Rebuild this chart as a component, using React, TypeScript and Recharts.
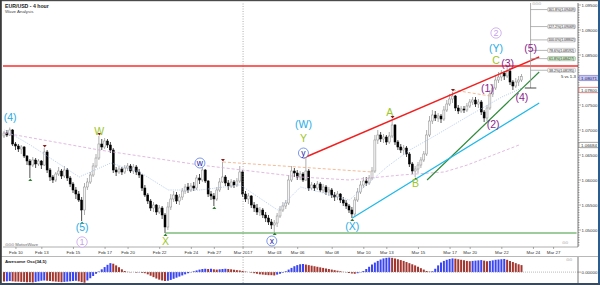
import React from 'react';
import { ComposedChart, BarChart, Bar, Line, XAxis, YAxis, ReferenceLine, ReferenceDot, Cell } from 'recharts';

// ---------- DATA ----------
const firstOpen = 1.0688;
const closes = [
  1.0694, 1.0690, 1.0700, 1.0672, 1.0668,
  1.0662, 1.0666, 1.0648, 1.0638, 1.0630, 1.0640,
  1.0632, 1.0638, 1.0630, 1.0656, 1.0620, 1.0606,
  1.0600, 1.0612, 1.0618, 1.0608, 1.0620, 1.0604,
  1.0592, 1.0580, 1.0572, 1.0560, 1.0540, 1.0586,
  1.0596, 1.0610, 1.0628, 1.0644, 1.0672, 1.0666,
  1.0678, 1.0670, 1.0660, 1.0620, 1.0616, 1.0622,
  1.0616, 1.0624, 1.0628, 1.0618, 1.0626, 1.0616,
  1.0610, 1.0584, 1.0570, 1.0558, 1.0544, 1.0550,
  1.0536, 1.0544, 1.0530, 1.0506, 1.0546, 1.0562,
  1.0570, 1.0558, 1.0566, 1.0578, 1.0586, 1.0580,
  1.0588, 1.0584, 1.0604, 1.0600, 1.0620, 1.0598,
  1.0572, 1.0568, 1.0562, 1.0580, 1.0596, 1.0606,
  1.0594, 1.0588, 1.0596, 1.0590, 1.0598, 1.0616,
  1.0572, 1.0562, 1.0568, 1.0550, 1.0544, 1.0536,
  1.0540, 1.0530, 1.0524, 1.0516, 1.0510, 1.0514,
  1.0528, 1.0540, 1.0548, 1.0554, 1.0600, 1.0618,
  1.0614, 1.0606, 1.0612, 1.0600, 1.0618, 1.0584,
  1.0590, 1.0584, 1.0592, 1.0580, 1.0586, 1.0576,
  1.0580, 1.0570, 1.0566, 1.0572, 1.0560, 1.0554,
  1.0548, 1.0540, 1.0532, 1.0560, 1.0576, 1.0590,
  1.0598, 1.0594, 1.0604, 1.0618, 1.0680, 1.0690,
  1.0682, 1.0686, 1.0676, 1.0688, 1.0710, 1.0676,
  1.0666, 1.0660, 1.0664, 1.0652, 1.0632, 1.0618,
  1.0622, 1.0630, 1.0640, 1.0652, 1.0690, 1.0718,
  1.0730, 1.0724, 1.0728, 1.0722, 1.0740, 1.0752,
  1.0762, 1.0768, 1.0744, 1.0738, 1.0742, 1.0740,
  1.0748, 1.0756, 1.0760, 1.0752, 1.0756, 1.0736,
  1.0724, 1.0744, 1.0772, 1.0784, 1.0800, 1.0806,
  1.0814, 1.0808, 1.0818, 1.0796, 1.0788, 1.0796,
  1.0800, 1.0807,
];
const highs = [
  1.0698, 1.0700, 1.0705, 1.0702, 1.0676,
  1.0672, 1.0670, 1.0668, 1.0650, 1.0642, 1.0646,
  1.0644, 1.0642, 1.0640, 1.0664, 1.0660, 1.0624,
  1.0610, 1.0616, 1.0626, 1.0622, 1.0628, 1.0624,
  1.0608, 1.0596, 1.0586, 1.0578, 1.0566, 1.0594,
  1.0604, 1.0616, 1.0634, 1.0652, 1.0688, 1.0682,
  1.0684, 1.0682, 1.0676, 1.0664, 1.0626, 1.0628,
  1.0626, 1.0630, 1.0634, 1.0632, 1.0632, 1.0630,
  1.0622, 1.0612, 1.0590, 1.0574, 1.0562, 1.0556,
  1.0552, 1.0550, 1.0548, 1.0534, 1.0556, 1.0572,
  1.0578, 1.0576, 1.0572, 1.0584, 1.0592, 1.0594,
  1.0594, 1.0596, 1.0610, 1.0612, 1.0630, 1.0622,
  1.0600, 1.0578, 1.0574, 1.0586, 1.0604, 1.0636,
  1.0610, 1.0600, 1.0602, 1.0600, 1.0604, 1.0628,
  1.0620, 1.0578, 1.0574, 1.0570, 1.0556, 1.0552,
  1.0546, 1.0544, 1.0536, 1.0530, 1.0522, 1.0520,
  1.0534, 1.0548, 1.0556, 1.0560, 1.0610, 1.0628,
  1.0624, 1.0620, 1.0618, 1.0616, 1.0646, 1.0622,
  1.0596, 1.0594, 1.0598, 1.0596, 1.0592, 1.0590,
  1.0586, 1.0584, 1.0576, 1.0578, 1.0574, 1.0566,
  1.0560, 1.0552, 1.0546, 1.0566, 1.0584, 1.0598,
  1.0606, 1.0606, 1.0610, 1.0626, 1.0690, 1.0700,
  1.0696, 1.0692, 1.0690, 1.0696, 1.0722, 1.0712,
  1.0680, 1.0672, 1.0670, 1.0668, 1.0656, 1.0636,
  1.0628, 1.0636, 1.0646, 1.0658, 1.0700, 1.0728,
  1.0740, 1.0738, 1.0734, 1.0732, 1.0748, 1.0760,
  1.0772, 1.0776, 1.0770, 1.0750, 1.0748, 1.0748,
  1.0754, 1.0762, 1.0766, 1.0766, 1.0762, 1.0760,
  1.0740, 1.0750, 1.0780, 1.0792, 1.0808, 1.0816,
  1.0820, 1.0818, 1.0826, 1.0824, 1.0800, 1.0804,
  1.0808, 1.0812,
];
const lows = [
  1.0684, 1.0686, 1.0688, 1.0668, 1.0660,
  1.0656, 1.0652, 1.0644, 1.0630, 1.0604, 1.0626,
  1.0624, 1.0628, 1.0622, 1.0628, 1.0614, 1.0598,
  1.0594, 1.0596, 1.0608, 1.0602, 1.0604, 1.0598,
  1.0586, 1.0574, 1.0562, 1.0556, 1.0518, 1.0530,
  1.0580, 1.0592, 1.0606, 1.0624, 1.0640, 1.0660,
  1.0662, 1.0664, 1.0654, 1.0614, 1.0608, 1.0612,
  1.0610, 1.0612, 1.0618, 1.0614, 1.0612, 1.0610,
  1.0604, 1.0578, 1.0566, 1.0552, 1.0538, 1.0536,
  1.0530, 1.0532, 1.0522, 1.0494, 1.0500, 1.0540,
  1.0556, 1.0552, 1.0550, 1.0560, 1.0572, 1.0574,
  1.0576, 1.0578, 1.0580, 1.0592, 1.0596, 1.0594,
  1.0566, 1.0560, 1.0548, 1.0558, 1.0576, 1.0594,
  1.0588, 1.0580, 1.0584, 1.0584, 1.0586, 1.0594,
  1.0566, 1.0556, 1.0552, 1.0544, 1.0536, 1.0530,
  1.0528, 1.0524, 1.0516, 1.0510, 1.0502, 1.0496,
  1.0506, 1.0524, 1.0536, 1.0542, 1.0550, 1.0596,
  1.0606, 1.0600, 1.0600, 1.0596, 1.0598, 1.0578,
  1.0580, 1.0578, 1.0580, 1.0576, 1.0574, 1.0570,
  1.0568, 1.0564, 1.0558, 1.0560, 1.0554, 1.0548,
  1.0542, 1.0534, 1.0524, 1.0528, 1.0556, 1.0572,
  1.0584, 1.0588, 1.0590, 1.0600, 1.0614, 1.0672,
  1.0676, 1.0674, 1.0670, 1.0672, 1.0684, 1.0670,
  1.0660, 1.0654, 1.0650, 1.0646, 1.0626, 1.0612,
  1.0606, 1.0614, 1.0624, 1.0636, 1.0648, 1.0686,
  1.0712, 1.0718, 1.0716, 1.0714, 1.0718, 1.0736,
  1.0748, 1.0754, 1.0738, 1.0732, 1.0734, 1.0734,
  1.0736, 1.0744, 1.0750, 1.0746, 1.0744, 1.0730,
  1.0716, 1.0718, 1.0740, 1.0766, 1.0780, 1.0794,
  1.0798, 1.0800, 1.0804, 1.0790, 1.0780, 1.0784,
  1.0788, 1.0796,
];

const aoValues = [
  -0.0034, -0.0033, -0.0032, -0.0033, -0.0034, -0.0034, -0.0035, -0.0035, -0.0036, -0.0036,
  -0.0037, -0.0035, -0.0033, -0.0031, -0.0030, -0.0031, -0.0032, -0.0033, -0.0034, -0.0035,
  -0.0036, -0.0035, -0.0034, -0.0033, -0.0032, -0.0031, -0.0033, -0.0036, -0.0038, -0.0030,
  -0.0022, -0.0014, -0.0006, 0.0002, 0.0010, 0.0018, 0.0026, 0.0032, 0.0030, 0.0024,
  0.0017, 0.0010, 0.0004, 0.0001, -0.0001, 0.0000, -0.0002, -0.0001, -0.0002, -0.0004,
  -0.0008, -0.0013, -0.0018, -0.0023, -0.0027, -0.0030, -0.0032, -0.0031, -0.0028, -0.0024,
  -0.0020, -0.0016, -0.0012, -0.0008, -0.0004, -0.0001, 0.0003, 0.0006, 0.0009, 0.0011,
  0.0012, 0.0011, 0.0012, 0.0010, 0.0009, 0.0010, 0.0011, 0.0012, 0.0011, 0.0010,
  0.0008, 0.0007, 0.0006, 0.0004, 0.0002, 0.0000, -0.0002, -0.0004, -0.0006, -0.0008,
  -0.0009, -0.0010, -0.0011, -0.0011, -0.0012, -0.0009, -0.0006, -0.0002, 0.0003, 0.0009,
  0.0015, 0.0021, 0.0025, 0.0028, 0.0029, 0.0027, 0.0025, 0.0023, 0.0021, 0.0019,
  0.0017, 0.0015, 0.0013, 0.0011, 0.0009, 0.0007, 0.0005, 0.0003, 0.0001, -0.0001,
  -0.0003, -0.0005, -0.0006, -0.0004, -0.0001, 0.0004, 0.0011, 0.0019, 0.0027, 0.0034,
  0.0040, 0.0045, 0.0049, 0.0051, 0.0052, 0.0051, 0.0049, 0.0046, 0.0043, 0.0040,
  0.0036, 0.0032, 0.0028, 0.0024, 0.0019, 0.0014, 0.0009, 0.0004, 0.0002, 0.0003,
  0.0012, 0.0024, 0.0034, 0.0040, 0.0044, 0.0047, 0.0049, 0.0048, 0.0046, 0.0044,
  0.0042, 0.0040, 0.0039, 0.0040, 0.0041, 0.0042, 0.0043, 0.0041, 0.0039, 0.0040,
  0.0042, 0.0044, 0.0045, 0.0046, 0.0047, 0.0044, 0.0040, 0.0036, 0.0032, 0.0028,
  0.0025,
];

// moving averages (index, price)
const maLongIdx = [0, 33, 68, 103, 120, 138, 153, 161, 179];
const maLongVal = [1.0694, 1.0660, 1.0630, 1.0606, 1.0600, 1.0610, 1.0616, 1.0630, 1.0670];
const maShortIdx = [0, 9, 26, 37, 47, 57, 68, 82, 95, 103, 120, 133, 141, 149, 162, 173, 180];
const maShortVal = [1.0700, 1.0670, 1.0606, 1.0634, 1.0616, 1.0580, 1.0580, 1.0590, 1.0540, 1.0586, 1.0560, 1.0626, 1.0660, 1.0686, 1.0730, 1.0766, 1.0784];

const dateTickIdx = [4, 13, 24, 35, 43, 54, 65, 73, 83, 94, 102, 114, 125, 133, 144, 155, 162, 173, 184, 191];
const dateLabels = ['Feb 10', 'Feb 13', 'Feb 15', 'Feb 17', 'Feb 20', 'Feb 22', 'Feb 24', 'Feb 27', 'Mar 2017', 'Mar 03', 'Mar 06', 'Mar 08', 'Mar 10', 'Mar 13', 'Mar 15', 'Mar 17', 'Mar 20', 'Mar 22', 'Mar 24', 'Mar 27'];

const priceMajorLabels = ['1.05000', '1.05500', '1.06000', '1.06500', '1.07000', '1.07500', '1.08500', '1.09000', '1.09500'];

const waveLabels = [
  { i: 2, p: 1.0726, t: '(4)', k: 'cyan' },
  { i: 27, p: 1.0506, t: '(5)', k: 'cyan' },
  { i: 27, p: 1.0476, t: '1', k: 'lav' },
  { i: 33, p: 1.0698, t: 'W', k: 'green' },
  { i: 56, p: 1.0478, t: 'X', k: 'green' },
  { i: 68, p: 1.0634, t: 'w', k: 'blue' },
  { i: 93, p: 1.0478, t: 'x', k: 'blue' },
  { i: 104, p: 1.0712, t: '(W)', k: 'cyan' },
  { i: 104, p: 1.0684, t: 'Y', k: 'green' },
  { i: 104, p: 1.0654, t: 'y', k: 'blue' },
  { i: 121, p: 1.0508, t: '(X)', k: 'cyan' },
  { i: 134, p: 1.0736, t: 'A', k: 'green' },
  { i: 143, p: 1.0594, t: 'B', k: 'green' },
  { i: 168, p: 1.0784, t: '(1)', k: 'purple' },
  { i: 170, p: 1.0712, t: '(2)', k: 'purple' },
  { i: 171, p: 1.0894, t: '2', k: 'lav' },
  { i: 171, p: 1.0864, t: '(Y)', k: 'cyan' },
  { i: 171, p: 1.0840, t: 'C', k: 'green' },
  { i: 175, p: 1.0834, t: '(3)', k: 'purple' },
  { i: 180, p: 1.0766, t: '(4)', k: 'purple' },
  { i: 183, p: 1.0864, t: '(5)', k: 'purple' },
];

const swingHighs = [14, 33, 76, 105, 135, 156];
const swingLows = [9, 27, 56, 73, 94, 121, 143];

const fibLevels = [
  { pct: '161.8%', price: 1.09409, hl: false },
  { pct: '127.2%', price: 1.09069, hl: false },
  { pct: '100.0%', price: 1.08802, hl: false },
  { pct: '78.6%', price: 1.08592, hl: false },
  { pct: '61.8%', price: 1.08427, hl: true },
  { pct: '38.2%', price: 1.08195, hl: false },
];

const priceBoxes = [
  { v: 1.06700, label: '1.06684', fill: '#ffffff', stroke: '#777777', color: '#333' },
  { v: 1.07800, label: '1.07800', fill: '#ffffff', stroke: '#c05050', color: '#333' },
  { v: 1.08040, label: '1.08071', fill: '#c6c6f2', stroke: '#4a4ab8', color: '#1a1a6a' },
];

// ---------- BUILD ----------
const NCAT = 200;
const chartData = Array.from({ length: NCAT }, (_, i) => {
  const has = i < closes.length;
  const li = maLongIdx.indexOf(i);
  const si = maShortIdx.indexOf(i);
  return {
    i,
    open: has ? (i === 0 ? firstOpen : closes[i - 1]) : null,
    close: has ? closes[i] : null,
    high: has ? highs[i] : null,
    low: has ? lows[i] : null,
    maL: li >= 0 ? maLongVal[li] : null,
    maS: si >= 0 ? maShortVal[si] : null,
  };
});
const aoData = Array.from({ length: NCAT }, (_, i) => ({ i, ao: i < aoValues.length ? aoValues[i] : null }));

const yTicks: number[] = [];
for (let k = 0; k <= 96; k++) yTicks.push(Number((1.047 + k * 0.0005).toFixed(4)));
priceBoxes.forEach((b) => yTicks.push(b.v));

const FONT = '"Liberation Sans", Arial, sans-serif';
const COL = { cyan: '#27ace6', green: '#9dc62b', purple: '#8b1e8b', lav: '#c6a2ec', blue: '#1c1ca6' };

// ---------- RENDERERS ----------
const Candle = (props: any) => {
  const { x, y, width, height, payload } = props;
  if (!payload || payload.high == null) return null;
  const top = Math.min(y, y + height);
  const h = Math.abs(height);
  const span = payload.high - payload.low || 1e-9;
  const py = (v: number) => top + ((payload.high - v) / span) * h;
  const cx = x + width / 2;
  const up = payload.close >= payload.open;
  const bTop = py(Math.max(payload.open, payload.close));
  const bBot = py(Math.min(payload.open, payload.close));
  const col = up ? '#8c8c8c' : '#000000';
  return (
    <g>
      <line x1={cx} x2={cx} y1={top} y2={top + h} stroke={col} strokeWidth={0.7} />
      <rect x={x} y={bTop} width={width} height={Math.max(0.7, bBot - bTop)} fill={up ? '#f4f4f4' : '#000'} stroke={col} strokeWidth={0.5} />
    </g>
  );
};

const PriceTick = (props: any) => {
  const { x, y, payload } = props;
  const v = payload.value;
  const box = priceBoxes.find((b) => b.v === v);
  if (box) {
    return (
      <g>
        <rect x={x + 1} y={y - 2.6} width={20} height={5.2} rx={1} fill={box.fill} stroke={box.stroke} strokeWidth={0.5} />
        <text x={x + 11} y={y + 1.6} textAnchor="middle" fontSize={4.4} fill={box.color} fontFamily={FONT}>{box.label}</text>
      </g>
    );
  }
  const lab = v.toFixed(5);
  const major = priceMajorLabels.includes(lab);
  return (
    <g>
      <line x1={x} x2={x + (major ? 3 : 1.5)} y1={y} y2={y} stroke="#555" strokeWidth={0.5} />
      {major && (
        <text x={x + 3.5} y={y + 1.6} fontSize={4.4} fill="#333" fontFamily={FONT}>{lab}</text>
      )}
    </g>
  );
};

const DateTick = (props: any) => {
  const { x, y, payload } = props;
  const idx = dateTickIdx.indexOf(Number(payload.value));
  if (idx < 0) return null;
  return (
    <g>
      <line x1={x} x2={x} y1={y} y2={y + 2} stroke="#777" strokeWidth={0.6} />
      <text x={x} y={y + 6.8} textAnchor="middle" fontSize={4.4} fill="#333" fontFamily={FONT}>{dateLabels[idx]}</text>
    </g>
  );
};

const waveShape = (l: any) => (p: any) => {
  const { cx, cy } = p;
  if (l.k === 'blue') {
    return (
      <g>
        <circle cx={cx} cy={cy} r={5} fill="#fff" stroke="#5a7de6" strokeWidth={0.8} />
        <text x={cx} y={cy + 2.8} textAnchor="middle" fontSize={8.5} fill={COL.blue} fontFamily={FONT}>{l.t}</text>
      </g>
    );
  }
  if (l.k === 'lav') {
    return (
      <g>
        <circle cx={cx} cy={cy} r={5.2} fill="#fff" stroke={COL.lav} strokeWidth={0.8} />
        <text x={cx} y={cy + 3.2} textAnchor="middle" fontSize={9} fill={COL.lav} fontFamily={FONT}>{l.t}</text>
      </g>
    );
  }
  const c = (COL as any)[l.k];
  return (
    <text x={cx} y={cy + 3.6} textAnchor="middle" fontSize={10.5} fill={c} fontFamily={FONT}>{l.t}</text>
  );
};

const triShape = (down: boolean) => (p: any) => {
  const { cx, cy } = p;
  if (down) {
    return <path d={`M${cx - 2},${cy - 3} L${cx + 2},${cy - 3} L${cx},${cy - 0.5} Z`} fill="#8a1c1c" />;
  }
  return <path d={`M${cx - 2},${cy + 3} L${cx + 2},${cy + 3} L${cx},${cy + 0.5} Z`} fill="#2e7d32" />;
};

const fibShape = (f: any) => (p: any) => {
  const { cx, cy } = p;
  return (
    <g>
      <line x1={cx} x2={cx + 17} y1={cy} y2={cy} stroke="#9a9a9a" strokeWidth={0.7} />
      <rect x={cx + 17} y={cy - 2.1} width={28} height={4.2} rx={1.2} fill={f.hl ? '#c8ecc0' : '#f2f2f2'} stroke="#8a8a8a" strokeWidth={0.4} />
      <text x={cx + 31} y={cy + 1.3} textAnchor="middle" fontSize={3.5} fill="#333" fontFamily={FONT}>{`${f.pct}(${f.price.toFixed(5)})`}</text>
    </g>
  );
};

export default function App() {
  return (
    <div style={{ position: 'absolute', left: 0, top: 0, width: 600, height: 285, background: '#fff', overflow: 'hidden', fontFamily: FONT }}>
      <div style={{ position: 'absolute', left: 0, top: 0 }}>
        <ComposedChart width={600} height={257} data={chartData} margin={{ top: 3, right: 0, bottom: 0, left: 3 }} barCategoryGap={0}>
          <XAxis dataKey="i" type="category" height={10} interval={0} tickLine={false} tickSize={0} tickMargin={0} axisLine={{ stroke: '#9a9a9a', strokeWidth: 0.8 }} tick={<DateTick />} />
          <YAxis orientation="right" width={22} type="number" domain={[1.0466, 1.0954]} allowDataOverflow ticks={yTicks} interval={0} tickLine={false} tickSize={0} tickMargin={0} axisLine={{ stroke: '#555', strokeWidth: 0.8 }} tick={<PriceTick />} />

          <ReferenceLine x={83} stroke="#8a8a8a" strokeDasharray="1 1.5" strokeWidth={0.7} />
          <ReferenceLine y={1.0828} stroke="#ff2b2b" strokeWidth={1.6} />
          <ReferenceLine segment={[{ x: 56, y: 1.0494 }, { x: 199, y: 1.0494 }]} stroke="#3f9a3a" strokeWidth={1.2} />

          <Line dataKey="maL" stroke="#d9a8d9" strokeWidth={0.8} strokeDasharray="3 2" dot={false} connectNulls isAnimationActive={false} />
          <Line dataKey="maS" stroke="#a6c2ee" strokeWidth={0.8} strokeDasharray="1 1.2" dot={false} connectNulls isAnimationActive={false} />

          <ReferenceLine segment={[{ x: 76, y: 1.0636 }, { x: 128, y: 1.0616 }]} stroke="#f0a878" strokeDasharray="3 2" strokeWidth={0.8} />
          <ReferenceLine segment={[{ x: 156, y: 1.0780 }, { x: 169, y: 1.0768 }]} stroke="#f0a878" strokeDasharray="3 2" strokeWidth={0.8} />

          <Bar dataKey={(d: any) => (d.high == null ? null : [d.low, d.high])} barSize={2} shape={<Candle />} isAnimationActive={false} />

          <ReferenceLine segment={[{ x: 104, y: 1.0644 }, { x: 186, y: 1.0846 }]} stroke="#f02020" strokeWidth={1.4} />
          <ReferenceLine segment={[{ x: 147, y: 1.0600 }, { x: 186, y: 1.0816 }]} stroke="#2e8b3a" strokeWidth={1.1} />
          <ReferenceLine segment={[{ x: 121, y: 1.0524 }, { x: 186, y: 1.0754 }]} stroke="#1fb8e8" strokeWidth={1.3} />

          <ReferenceLine segment={[{ x: 183, y: 1.0954 }, { x: 183, y: 1.0784 }]} stroke="#9a9a9a" strokeWidth={0.8} />
          <ReferenceLine segment={[{ x: 181, y: 1.0784 }, { x: 185, y: 1.0784 }]} stroke="#333" strokeWidth={0.9} />
          {fibLevels.map((f, k) => (
            <ReferenceDot key={'f' + k} x={183} y={f.price} r={0} ifOverflow="visible" shape={fibShape(f)} />
          ))}

          {swingHighs.map((i) => (
            <ReferenceDot key={'h' + i} x={i} y={highs[i]} r={0} ifOverflow="visible" shape={triShape(true)} />
          ))}
          {swingLows.map((i) => (
            <ReferenceDot key={'l' + i} x={i} y={lows[i]} r={0} ifOverflow="visible" shape={triShape(false)} />
          ))}
          {waveLabels.map((l, k) => (
            <ReferenceDot key={'w' + k} x={l.i} y={l.p} r={0} ifOverflow="visible" shape={waveShape(l)} />
          ))}
        </ComposedChart>
      </div>

      <div style={{ position: 'absolute', left: 0, top: 256, width: 600, height: 1, background: '#b8b8b8' }} />
      <div style={{ position: 'absolute', left: 0, top: 256 }}>
        <BarChart width={600} height={28} data={aoData} margin={{ top: 1, right: 0, bottom: 1, left: 3 }} barCategoryGap={0}>
          <XAxis dataKey="i" hide />
          <YAxis orientation="right" width={22} type="number" domain={[-0.0039, 0.0054]} allowDataOverflow ticks={[0]} tickLine={false} tickSize={0} tickMargin={0} axisLine={{ stroke: '#555', strokeWidth: 0.8 }}
            tick={(p: any) => (
              <g>
                <line x1={p.x} x2={p.x + 3} y1={p.y} y2={p.y} stroke="#555" strokeWidth={0.5} />
                <text x={p.x + 3.5} y={p.y + 1.6} fontSize={4.4} fill="#333" fontFamily={FONT}>0.00000</text>
              </g>
            )} />
          <ReferenceLine y={0} stroke="#8a8a8a" strokeDasharray="1 1" strokeWidth={0.6} />
          <ReferenceLine x={83} stroke="#8a8a8a" strokeDasharray="1 1.5" strokeWidth={0.7} />
          <Bar dataKey="ao" barSize={2} isAnimationActive={false}>
            {aoData.map((d, idx) => {
              const prev = idx > 0 ? aoData[idx - 1].ao : null;
              const up = d.ao != null && prev != null && d.ao > prev;
              return <Cell key={idx} fill={up ? '#3a44f2' : '#a5362f'} />;
            })}
          </Bar>
        </BarChart>
      </div>

      <svg width={600} height={285} style={{ position: 'absolute', left: 0, top: 0, pointerEvents: 'none' }}>
        <text x={5} y={7.5} fontSize={5.2} fontWeight="bold" fill="#222" fontFamily={FONT}>EUR/USD - 4 hour</text>
        <text x={5} y={13} fontSize={4.4} fill="#444" fontFamily={FONT}>Wave Analysis</text>
        <text x={5} y={246} fontSize={4.2} fill="#666" fontFamily={FONT}>⊙⊙⊙ MotiveWave</text>
        <text x={5} y={262.5} fontSize={4.4} fontWeight="bold" fill="#222" fontFamily={FONT}>Awesome Osc(34,5)</text>
        <text x={561} y={77.5} fontSize={4.2} fill="#222" fontFamily={FONT}>5 vs 1-3</text>
        <text x={532} y={5} fontSize={4.2} fill="#999" fontFamily={FONT}>⊙⊙⊙</text>
        <text x={562} y={244} fontSize={4.2} fill="#999" fontFamily={FONT}>⊙⊙</text>
        <text x={566} y={261} fontSize={4.2} fill="#999" fontFamily={FONT}>⊙⊙</text>
        <rect x={0} y={0} width={600} height={1.2} fill="#4a4a4a" />
        <rect x={0} y={0} width={1.8} height={285} fill="#3a3a3a" />
        <rect x={598} y={0} width={2} height={285} fill="#2b5c8c" />
        <rect x={0} y={283} width={600} height={2} fill="#3a4a5e" />
      </svg>
    </div>
  );
}
